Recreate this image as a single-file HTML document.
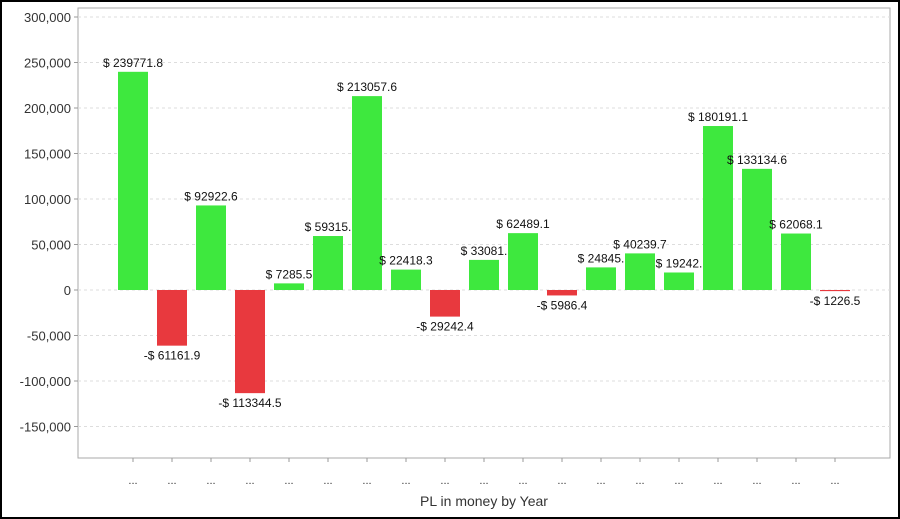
<!DOCTYPE html>
<html><head><meta charset="utf-8"><style>
body{margin:0;background:#fff;font-family:"Liberation Sans",sans-serif;}
#wrap{position:relative;width:900px;height:519px;box-sizing:border-box;border:2px solid #000;background:#fff;}
</style></head><body>
<div id="wrap">
<svg id="chart" width="896" height="515" style="position:absolute;left:0;top:0"></svg>
</div>
<script>
const categories=["...","...","...","...","...","...","...","...","...","...","...","...","...","...","...","...","...","...","..."];
const values=[239771.8,-61161.9,92922.6,-113344.5,7285.5,59315.0,213057.6,22418.3,-29242.4,33081.0,62489.1,-5986.4,24845.0,40239.7,19242.0,180191.1,133134.6,62068.1,-1226.5];
const labels=["$ 239771.8","-$ 61161.9","$ 92922.6","-$ 113344.5","$ 7285.5","$ 59315.","$ 213057.6","$ 22418.3","-$ 29242.4","$ 33081.","$ 62489.1","-$ 5986.4","$ 24845.","$ 40239.7","$ 19242.","$ 180191.1","$ 133134.6","$ 62068.1","-$ 1226.5"];
const yTicks=[300000,250000,200000,150000,100000,50000,0,-50000,-100000,-150000];
const yTickLabels=["300,000","250,000","200,000","150,000","100,000","50,000","0","-50,000","-100,000","-150,000"];
const NS="http://www.w3.org/2000/svg";
const svg=document.getElementById('chart');
// frame offset 2px
const L=76,R=888,T=6,B=456;
const y=v=>288-(v/50000)*45.5;
const x=i=>131+i*39;
function mk(t,a){const e=document.createElementNS(NS,t);for(const k in a)e.setAttribute(k,a[k]);svg.appendChild(e);return e;}
let pb=mk('rect',{x:L,y:T,width:R-L,height:B-T,fill:'#fff',stroke:'#aaa','stroke-width':1});


yTicks.forEach((v,i)=>{
  const g=mk('line',{x1:L,x2:R,y1:y(v),y2:y(v),stroke:'#ddd','stroke-dasharray':'3,3'});
  
  
  mk('line',{x1:L-4,x2:L,y1:y(v),y2:y(v),stroke:'#999'});
  const t=mk('text',{x:L-7,y:y(v)+5,'text-anchor':'end','font-size':13,fill:'#333'});
  t.textContent=yTickLabels[i];
  
  
});
values.forEach((v,i)=>{
  const cx=x(i),w=30;
  const r=mk('rect',{x:cx-w/2,y:Math.min(y(v),y(0)),width:w,height:Math.abs(y(v)-y(0)),fill:v>=0?'#3ee83e':'#e8393e'});
  
  
  const ly=v>=0?y(v)-5:y(v)+14;
  const t=mk('text',{x:cx,y:ly,'text-anchor':'middle','font-size':12,fill:'#111'});
  t.textContent=labels[i];
  
  
  mk('line',{x1:cx,x2:cx,y1:B,y2:B+4,stroke:'#999'});
  const c=mk('text',{x:cx,y:B+26,'text-anchor':'middle','font-size':11,fill:'#333'});
  c.textContent=categories[i];
  
  
});
const xt=mk('text',{x:(L+R)/2,y:504,'text-anchor':'middle','font-size':14,fill:'#333'});
xt.textContent='PL in money by Year';


</script>
</body></html>
